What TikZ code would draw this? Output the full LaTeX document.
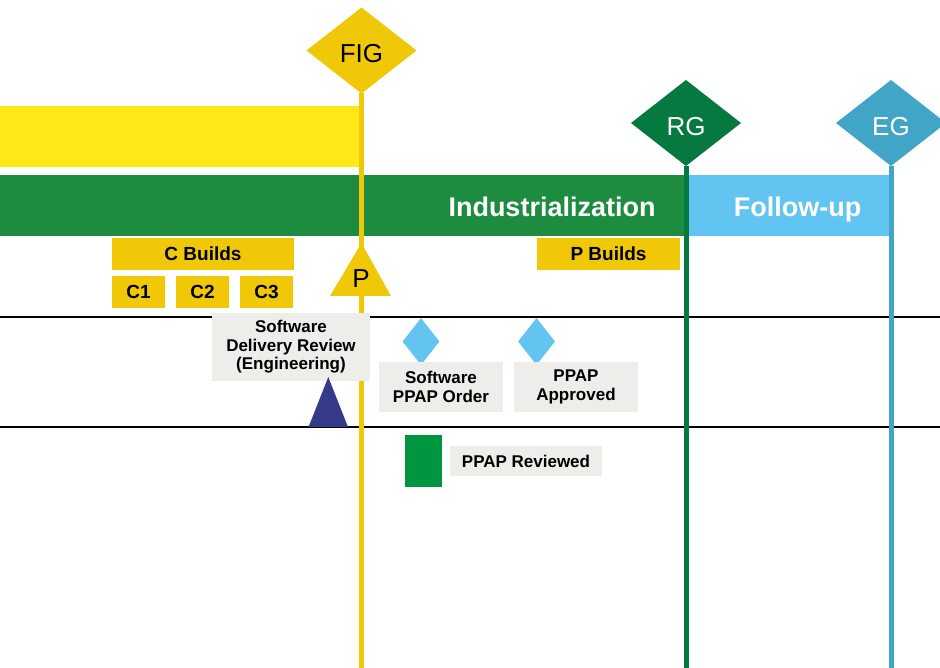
\documentclass[tikz,border=0pt]{standalone}
\usepackage{fontspec}
\setmainfont{Liberation Sans}
\usetikzlibrary{shapes.geometric}
\definecolor{barYellow}{HTML}{FFE817}
\definecolor{gold}{HTML}{F0C808}
\definecolor{barGreen}{HTML}{1D8C3E}
\definecolor{rgGreen}{HTML}{05793F}
\definecolor{lightBlue}{HTML}{62C4F0}
\definecolor{egBlue}{HTML}{41A5C8}
\definecolor{navy}{HTML}{353A8A}
\definecolor{paleGray}{HTML}{EEEDE9}
\definecolor{sqGreen}{HTML}{00963F}
\tikzset{
  bar/.style={rectangle, inner sep=0pt, outer sep=0pt, draw=none},
  buildbox/.style={rectangle, fill=gold, inner sep=0pt, outer sep=0pt, minimum height=32pt,
    font=\bfseries\fontsize{19}{21}\selectfont, text=black},
  notebox/.style={rectangle, fill=paleGray, inner sep=0pt, outer sep=0pt, align=center,
    font=\bfseries\fontsize{17}{18.5}\selectfont, text=black},
  gate/.style={diamond, inner sep=0pt, outer sep=0pt, minimum width=110pt, minimum height=86pt,
    font=\fontsize{26}{28}\selectfont, text height=25pt, text depth=0pt},
  phaselabel/.style={anchor=base, text=white, font=\bfseries\fontsize{27}{30}\selectfont},
  gateline/.style={line width=5pt},
  rowline/.style={line width=2pt, black},
  milestone/.style={diamond, fill=lightBlue, inner sep=0pt, minimum width=37pt, minimum height=47pt}
}
\begin{document}
\begin{tikzpicture}[x=1pt,y=-1pt]
\useasboundingbox (0,0) rectangle (940,668);
% phase bars
\node[bar, fill=barYellow, minimum width=359pt, minimum height=61pt] (ybar) at (179.5,136.5) {};
\node[bar, fill=barGreen, minimum width=687pt, minimum height=61pt] (gbar) at (343.5,205.5) {};
\node[bar, fill=lightBlue, minimum width=202pt, minimum height=61pt] (bbar) at (788,205.5) {};
\node[phaselabel] (ind) at (552,217) {Industrialization};
\node[phaselabel] (fol) at (797.5,217) {Follow-up};
% row lines
\coordinate (r1a) at (0,317); \coordinate (r1b) at (940,317);
\coordinate (r2a) at (0,427); \coordinate (r2b) at (940,427);
\draw[rowline] (r1a) -- (r1b);
\draw[rowline] (r2a) -- (r2b);
% gates
\node[gate, fill=gold, text=black] (fig) at (361.5,50.5) {FIG};
\node[gate, fill=rgGreen, text=white] (rg) at (686,123) {RG};
\node[gate, fill=egBlue, text=white] (eg) at (891,123) {EG};
\coordinate (bot) at (0,668);
\draw[gateline, gold] (fig.south) -- (fig.south |- bot);
\draw[gateline, rgGreen] (rg.south) -- (rg.south |- bot);
\draw[gateline, egBlue] (eg.south) -- (eg.south |- bot);
% P triangle
\coordinate (pt1) at (361.5,243); \coordinate (pt2) at (391,296); \coordinate (pt3) at (330,296);
\fill[gold] (pt1) -- (pt2) -- (pt3) -- cycle;
\node[anchor=base, font=\fontsize{26}{28}\selectfont] (plab) at (361,288) {P};
% builds
\node[buildbox, minimum width=182pt] (cb) at (203,254) {C Builds};
\node[buildbox, minimum width=53pt] (c1) at (138.5,292) {C1};
\node[buildbox, minimum width=53pt] (c2) at (202.5,292) {C2};
\node[buildbox, minimum width=53pt] (c3) at (266.5,292) {C3};
\node[buildbox, minimum width=143pt] (pb) at (608.5,254) {P Builds};
% software row
\node[notebox, minimum width=158pt, minimum height=68pt] (sdr) at (291,347) {Software\\Delivery Review\\(Engineering)};
\coordinate (nt1) at (328.3,377); \coordinate (nt2) at (348,427); \coordinate (nt3) at (308.5,427);
\fill[navy] (nt1) -- (nt2) -- (nt3) -- cycle;
\node[milestone] (m1) at (421,341.5) {};
\node[milestone] (m2) at (536.5,341.5) {};
\node[notebox, minimum width=124pt, minimum height=50pt] (spo) at (441,387) {Software\\PPAP Order};
\node[notebox, minimum width=124pt, minimum height=50pt] (pa) at (576,387) {PPAP\\Approved};
% review row
\node[rectangle, fill=sqGreen, inner sep=0pt, minimum width=37pt, minimum height=52pt] (sq) at (423.5,461) {};
\node[notebox, minimum width=152pt, minimum height=30pt] (pr) at (526,461) {PPAP Reviewed};
\end{tikzpicture}
\end{document}
